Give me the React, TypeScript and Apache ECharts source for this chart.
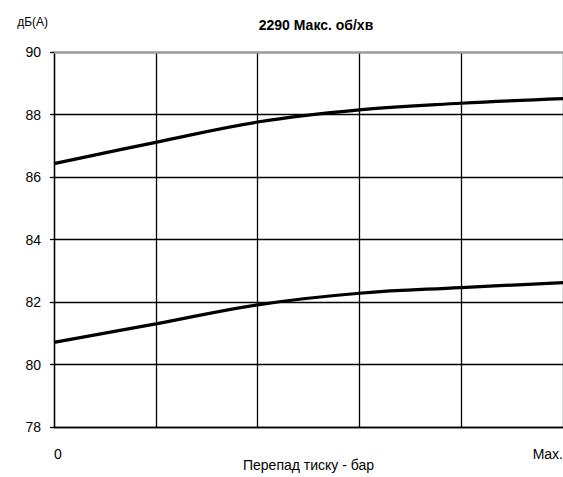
import React, { useEffect, useRef } from "react";
import * as echarts from "echarts";

const title = "2290 Макс. об/хв";
const yName = "дБ(А)";
const xName = "Перепад тиску - бар";
const xPositions = [0, 1, 2, 3, 4, 5];
const xTickLabels = ["0", "", "", "", "", "Max."];
const upperValues = [86.43, 87.11, 87.76, 88.15, 88.36, 88.51];
const lowerValues = [80.71, 81.3, 81.91, 82.28, 82.46, 82.62];

export default function App() {
  const ref = useRef<HTMLDivElement>(null);
  useEffect(() => {
    if (!ref.current) return;
    const chart = echarts.init(ref.current, undefined, { renderer: "svg" });
    const font = "Liberation Sans, Arial, sans-serif";
    chart.setOption({
      animation: false,
      textStyle: { fontFamily: font },
      title: {
        text: title,
        left: 311,
        top: 13,
        textAlign: "center",
        textStyle: { fontSize: 14, fontWeight: "bold", color: "#000", fontFamily: font },
      },
      grid: { left: 54, right: 0, top: 52, bottom: 50, containLabel: false, outerBoundsMode: "none" },
      xAxis: [
        {
          type: "value",
          min: 0,
          max: 5,
          interval: 1,
          name: xName,
          nameLocation: "middle",
          nameGap: 31,
          nameMoveOverlap: false,
          nameTextStyle: { fontSize: 14, color: "#000", fontFamily: font },
          axisLine: { show: true, lineStyle: { color: "#000", width: 1.3 } },
          axisTick: { show: false },
          axisLabel: {
            fontSize: 14,
            color: "#000",
            margin: 20,
            alignMinLabel: "left",
            alignMaxLabel: "right",
            formatter: (v: number) => xTickLabels[Math.round(v)] ?? "",
          },
          splitLine: { show: true, lineStyle: { color: "#000", width: 1.3 } },
        },
        {
          type: "value",
          position: "top",
          min: 0,
          max: 5,
          axisLine: { show: true, onZero: false, lineStyle: { color: "#999", width: 2.5 } },
          axisTick: { show: false },
          axisLabel: { show: false },
          splitLine: { show: false },
        },
      ],
      yAxis: {
        type: "value",
        min: 78,
        max: 90,
        interval: 2,
        name: yName,
        nameLocation: "end",
        nameGap: 24,
        nameMoveOverlap: false,
        nameTextStyle: { fontSize: 12, color: "#000", align: "right", padding: [0, 6, 0, 0], fontFamily: font },
        axisLine: { show: true, lineStyle: { color: "#000", width: 1.3 } },
        axisTick: { show: true, length: 4, lineStyle: { color: "#000", width: 1.3 } },
        axisLabel: { fontSize: 14, color: "#000", margin: 13 },
        splitLine: {
          show: true,
          lineStyle: { color: ["#000", "#000", "#000", "#000", "#000", "#000", "rgba(0,0,0,0)"], width: 1.3 },
        },
      },
      series: [
        {
          type: "line",
          data: xPositions.map((x, i) => [x, upperValues[i]]),
          smooth: 0.4,
          symbol: "none",
          lineStyle: { color: "#000", width: 3.2 },
        },
        {
          type: "line",
          data: xPositions.map((x, i) => [x, lowerValues[i]]),
          smooth: 0.4,
          symbol: "none",
          lineStyle: { color: "#000", width: 3.2 },
        },
      ],
    });
    return () => chart.dispose();
  }, []);
  return <div ref={ref} style={{ width: 563, height: 477, position: "absolute", left: 0, top: 0, background: "#fff" }} />;
}
